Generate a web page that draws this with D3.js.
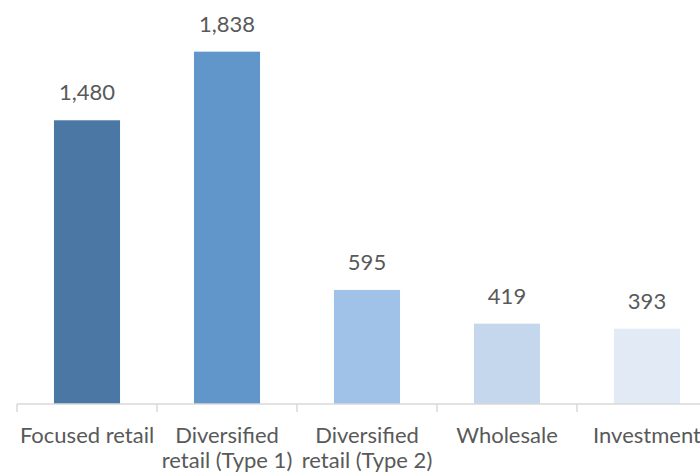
<!DOCTYPE html>
<html>
<head>
<meta charset="utf-8">
<script src="https://cdn.jsdelivr.net/npm/d3@7/dist/d3.min.js"></script>
<style>
  html, body { margin: 0; padding: 0; background: #fff; overflow: hidden; }
  svg { display: block; }
</style>
</head>
<body>
<svg id="chart" width="700" height="473"></svg>
<script>
const categories = ["Focused retail", "Diversified retail (Type 1)", "Diversified retail (Type 2)", "Wholesale", "Investment"];
const categoryLines = [["Focused retail"], ["Diversified", "retail (Type 1)"], ["Diversified", "retail (Type 2)"], ["Wholesale"], ["Investment"]];
const values = [1480, 1838, 595, 419, 393];
const colors = ["#4a77a3", "#6096c9", "#a0c2e9", "#c4d7ed", "#e2eaf5"];

const svg = d3.select("#chart");
const font = "Lato, 'Open Sans', sans-serif";
const textColor = "#595959";

const x = d3.scaleBand().domain(categories).range([17, 717]).paddingInner(0.528).paddingOuter(0.264);
const y = d3.scaleLinear().domain([0, 2000]).range([404, 20.6]);

const data = categories.map((c, i) => ({ c, v: values[i], color: colors[i], lines: categoryLines[i] }));

// bars
svg.append("g").selectAll("rect").data(data).join("rect")
  .attr("x", d => x(d.c))
  .attr("width", x.bandwidth())
  .attr("y", d => y(d.v))
  .attr("height", d => y(0) - y(d.v))
  .attr("fill", d => d.color);

// value labels
const fmt = d3.format(",");
svg.append("g").selectAll("text").data(data).join("text")
  .attr("x", d => x(d.c) + x.bandwidth() / 2)
  .attr("y", d => y(d.v) - 20)
  .attr("text-anchor", "middle")
  .attr("font-family", font)
  .attr("font-size", 22)
  .attr("fill", textColor)
  .text(d => fmt(d.v));

// axis line and tick marks between categories
const axisY = y(0);
const [r0, r1] = x.range();
svg.append("line")
  .attr("x1", r0).attr("x2", r1)
  .attr("y1", axisY).attr("y2", axisY)
  .attr("stroke", "#d9d9d9").attr("stroke-width", 1.5);
const tickXs = d3.range(categories.length + 1).map(i => r0 + i * x.step());
svg.append("g").selectAll("line").data(tickXs).join("line")
  .attr("x1", d => d).attr("x2", d => d)
  .attr("y1", axisY).attr("y2", axisY + 8)
  .attr("stroke", "#d9d9d9").attr("stroke-width", 1.5);

// category labels
const lab = svg.append("g").selectAll("text").data(data).join("text")
  .attr("x", d => x(d.c) + x.bandwidth() / 2)
  .attr("y", 443)
  .attr("text-anchor", "middle")
  .attr("font-family", font)
  .attr("font-size", 22)
  .attr("fill", textColor);
lab.selectAll("tspan").data(d => d.lines.map(l => ({ l, x: x(d.c) + x.bandwidth() / 2 }))).join("tspan")
  .attr("x", t => t.x)
  .attr("dy", (t, i) => i === 0 ? 0 : 25)
  .text(t => t.l);
</script>
</body>
</html>
